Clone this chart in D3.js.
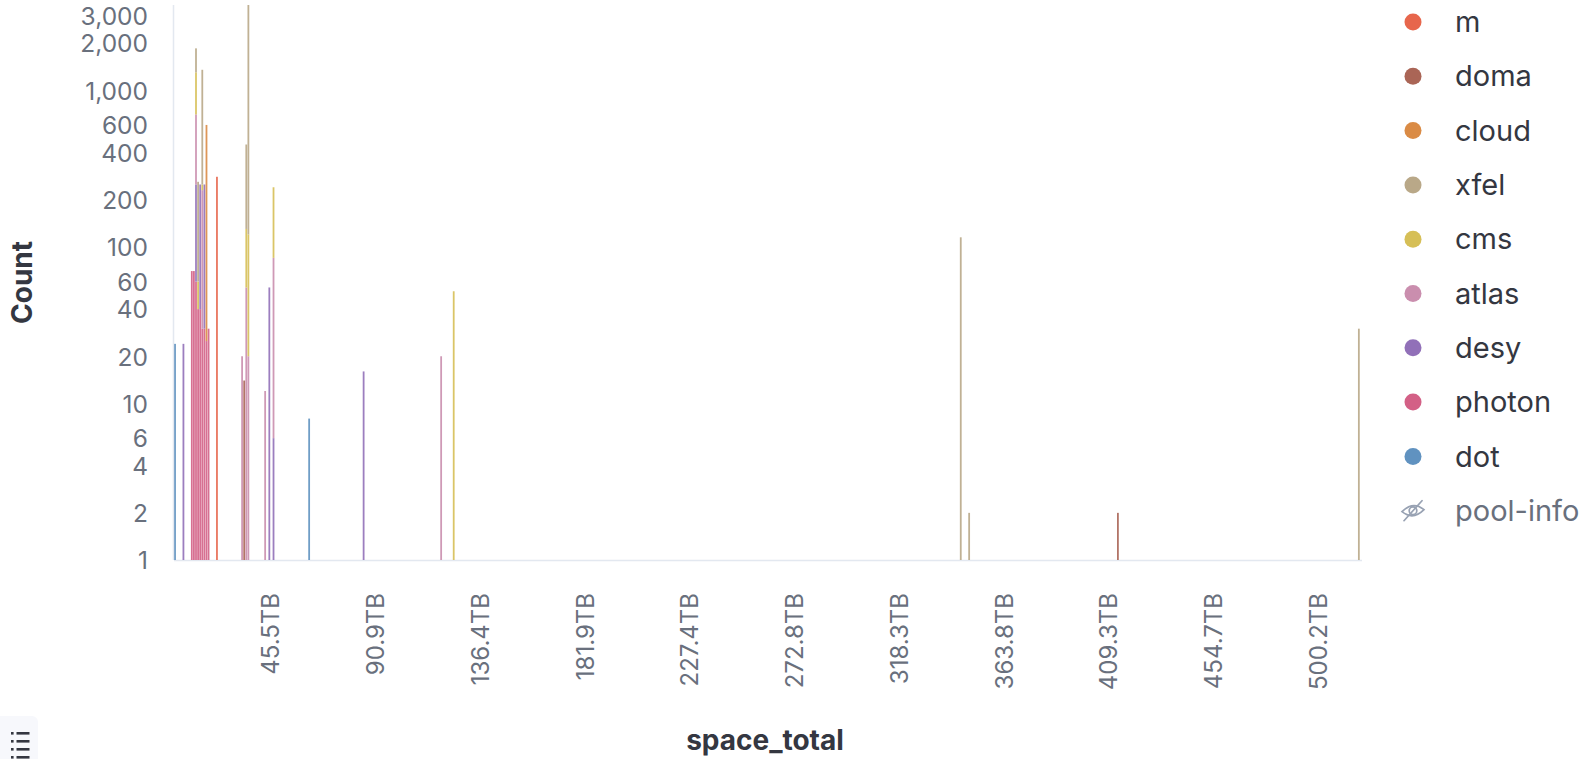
<!DOCTYPE html>
<html>
<head>
<meta charset="utf-8">
<script src="https://cdn.jsdelivr.net/npm/d3@7/dist/d3.min.js"></script>
<style>
  html, body { margin: 0; padding: 0; background: #ffffff; }
  svg { display: block; font-family: Inter, "Noto Sans", sans-serif; }
</style>
</head>
<body>
<svg id="chart" width="1583" height="759"></svg>
<script>
// Histogram of space_total (bins of 1 TB, decimal) split by pool group, stacked, log count axis.
// Each series: [bin start in TB, document count]
const poolInfo = [];
const dot = [[4, 24], [68, 8]];
const photon = [[12, 70], [13, 70], [14, 60], [15, 40], [16, 40], [17, 30], [18, 30], [19, 25], [20, 30]];
const desy = [[8, 24], [14, 190], [16, 210], [18, 220], [49, 55], [51, 6], [94, 16]];
const atlas = [[14, 450], [17, 200], [36, 20], [38, 55], [39, 20], [47, 12], [51, 79], [131, 20]];
const cms = [[14, 600], [15, 20], [17, 20], [38, 75], [39, 100], [51, 155], [137, 52]];
const xfel = [[14, 550], [15, 200], [17, 1100], [38, 320], [39, 3380], [379, 115], [383, 2], [569, 30]];
const cloud = [[19, 575]];
const doma = [[37, 14], [454, 2]];
const m = [[24, 280]];

// Stack order, bottom to top
const seriesNames = ["pool-info", "dot", "photon", "desy", "atlas", "cms", "xfel", "cloud", "doma", "m"];
const seriesData = [poolInfo, dot, photon, desy, atlas, cms, xfel, cloud, doma, m];
const seriesColors = ["#54B399", "#6092C0", "#D36086", "#9170B8", "#CA8EAE", "#D6BF57", "#B9A888", "#DA8B45", "#AA6556", "#E7664C"];
const hiddenSeries = ["pool-info"];

const binWidthTB = 1;
const xDomainTB = [4, 571];
const xTickTB = [50, 100, 150, 200, 250, 300, 350, 400, 450, 500, 550];
const yTicks = [1, 2, 4, 6, 10, 20, 40, 60, 100, 200, 400, 600, 1000, 2000, 3000];

const svg = d3.select("#chart");
const plot = { left: 174, right: 1362, top: 5, bottom: 560 };

// Build one row per bin with every series' count
const binMap = new Map();
seriesData.forEach((arr, i) => {
  arr.forEach(([b, c]) => {
    if (!binMap.has(b)) {
      const row = { bin: b };
      seriesNames.forEach(n => row[n] = 0);
      binMap.set(b, row);
    }
    binMap.get(b)[seriesNames[i]] += c;
  });
});
const table = Array.from(binMap.values()).sort((a, b) => a.bin - b.bin);
const visibleKeys = seriesNames.filter(n => !hiddenSeries.includes(n));
const stacked = d3.stack().keys(visibleKeys)(table);

const totals = table.map(r => d3.sum(visibleKeys, k => r[k]));
const x = d3.scaleLinear().domain(xDomainTB).range([plot.left, plot.right]);
const y = d3.scaleLog().domain([1, d3.max(totals)]).range([plot.bottom, plot.top]);

const colorOf = d3.scaleOrdinal().domain(seriesNames).range(seriesColors);

// Axis lines
svg.append("line")
  .attr("x1", plot.left - 0.5).attr("x2", plot.left - 0.5)
  .attr("y1", plot.top).attr("y2", plot.bottom)
  .attr("stroke", "#E3E8F0").attr("stroke-width", 1.5);
svg.append("line")
  .attr("x1", plot.left).attr("x2", plot.right)
  .attr("y1", plot.bottom + 0.5).attr("y2", plot.bottom + 0.5)
  .attr("stroke", "#E3E8F0").attr("stroke-width", 1.5);

// Bars
const barG = svg.append("g");
stacked.forEach(layer => {
  barG.append("g")
    .attr("fill", colorOf(layer.key))
    .selectAll("rect")
    .data(layer.filter(d => d[1] - d[0] > 0))
    .join("rect")
    .attr("x", d => x(d.data.bin) + 0.15)
    .attr("width", d => Math.max(1, x(d.data.bin + binWidthTB) - x(d.data.bin) - 0.3))
    .attr("y", d => y(d[1]))
    .attr("height", d => y(Math.max(1, d[0])) - y(d[1]))
    .attr("fill-opacity", 0.9);
});

// Y axis (log), labels only
const fmtCount = d3.format(",");
const yAxis = d3.axisLeft(y).tickValues(yTicks).tickFormat(fmtCount).tickSize(0).tickPadding(0);
const yg = svg.append("g").attr("transform", `translate(148,0)`).call(yAxis);
yg.select(".domain").remove();
yg.selectAll("text")
  .attr("fill", "#69707D")
  .attr("font-size", 24.5)
  .attr("font-family", "Inter, sans-serif")
  .attr("dy", "0.36em");

// X axis: decimal TB ticks shown in binary units
const fmtBytes = tb => (tb * 1e12 / Math.pow(1024, 4)).toFixed(1) + "TB";
const xAxis = d3.axisBottom(x).tickValues(xTickTB).tickFormat(fmtBytes).tickSize(0).tickPadding(0);
const xg = svg.append("g").attr("transform", `translate(0,${plot.bottom})`).call(xAxis);
xg.select(".domain").remove();
xg.selectAll("text")
  .attr("fill", "#69707D")
  .attr("font-size", 24)
  .attr("font-family", "Inter, sans-serif")
  .attr("text-anchor", "end")
  .attr("dy", "0.35em")
  .attr("transform", "translate(0,33) rotate(-90)")
  .attr("y", 0)
  .attr("x", 0);

// Axis titles
svg.append("text")
  .attr("transform", `translate(22,${(plot.top + plot.bottom) / 2}) rotate(-90)`)
  .attr("text-anchor", "middle")
  .attr("dy", "0.35em")
  .attr("font-size", 28)
  .attr("font-weight", 700)
  .attr("fill", "#343741")
  .text("Count");
svg.append("text")
  .attr("x", 765).attr("y", 741)
  .attr("text-anchor", "middle")
  .attr("dy", "0.33em")
  .attr("font-size", 28)
  .attr("font-weight", 700)
  .attr("fill", "#343741")
  .text("space_total");

// Legend, top of stack first
const legendNames = seriesNames.slice().reverse();
const legend = svg.append("g").attr("transform", "translate(1413,22)");
const rows = legend.selectAll("g").data(legendNames).join("g")
  .attr("transform", (d, i) => `translate(0,${i * 54.3})`);
rows.each(function(name) {
  const g = d3.select(this);
  if (hiddenSeries.includes(name)) {
    const ic = g.append("g").attr("fill", "none").attr("stroke", "#98A2B3").attr("stroke-width", 1.7)
      .attr("stroke-linecap", "round");
    ic.append("path").attr("d", "M-11,1 Q0,-10 11,-1 Q0,10 -11,1 Z");
    ic.append("circle").attr("r", 3.8);
    ic.append("line").attr("x1", -9).attr("y1", 10).attr("x2", 9).attr("y2", -10);
  } else {
    g.append("circle").attr("r", 8.5).attr("fill", colorOf(name));
  }
  g.append("text")
    .attr("x", 42).attr("dy", "0.35em")
    .attr("font-size", 29)
    .attr("fill", hiddenSeries.includes(name) ? "#69707D" : "#343741")
    .text(name);
});

// Legend toggle button, bottom left
const btn = svg.append("g").attr("transform", "translate(0,716)");
btn.append("rect").attr("x", -6).attr("y", 0).attr("width", 44).attr("height", 60).attr("rx", 6)
  .attr("fill", "#F7F8FC");
const listIcon = btn.append("g").attr("transform", "translate(11,16)").attr("fill", "#343741");
[0, 8, 16, 24].forEach(dy => {
  listIcon.append("rect").attr("x", 0).attr("y", dy).attr("width", 2.6).attr("height", 2.6);
  listIcon.append("rect").attr("x", 5.5).attr("y", dy).attr("width", 13).attr("height", 2.6);
});
</script>
</body>
</html>
